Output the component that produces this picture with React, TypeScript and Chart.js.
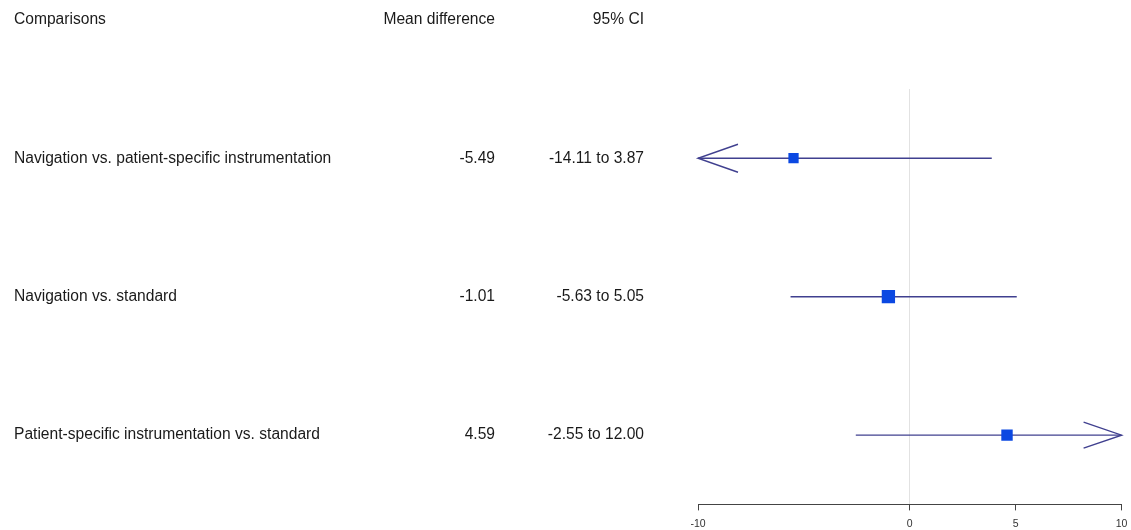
import React, { useEffect, useRef } from "react";
import { Chart, registerables } from "chart.js";

Chart.register(...registerables);

const comparisons = [
  "Navigation vs. patient-specific instrumentation",
  "Navigation vs. standard",
  "Patient-specific instrumentation vs. standard",
];
const meanDiff = [-5.49, -1.01, 4.59];
const ciLower = [-14.11, -5.63, -2.55];
const ciUpper = [3.87, 5.05, 12.0];
const xTicks = [-10, 0, 5, 10];
const headers = ["Comparisons", "Mean difference", "95% CI"];

const X_MIN = -10;
const X_MAX = 10;
const FONT = '"Liberation Sans", Arial, Helvetica, sans-serif';
const LINE_COLOR = "#40408f";
const BOX_COLOR = "#0b48e2";
const TEXT_COLOR = "#1a1a1a";

export default function App() {
  const ref = useRef<HTMLCanvasElement | null>(null);

  useEffect(() => {
    if (!ref.current) return;
    const clamp = (v: number) => Math.max(X_MIN, Math.min(X_MAX, v));
    // marker side proportional to sqrt of precision (inverse CI width)
    const radii = ciLower.map((lo, i) => {
      const w = ciUpper[i] - lo;
      const side = 43.5 / Math.sqrt(w);
      return side / Math.SQRT2;
    });

    const ciDatasets = comparisons.map((_, i) => ({
      type: "line" as const,
      data: [
        { x: clamp(ciLower[i]), y: i + 1 },
        { x: clamp(ciUpper[i]), y: i + 1 },
      ],
      borderColor: LINE_COLOR,
      borderWidth: 1.4,
      pointRadius: 0,
      showLine: true,
      fill: false,
    }));

    const textPlugin = {
      id: "forestText",
      afterDatasetsDraw(chart: any) {
        const { ctx, scales } = chart;
        const xs = scales.x;
        const ys = scales.y;
        ctx.save();
        // arrows for truncated CIs
        ctx.strokeStyle = LINE_COLOR;
        ctx.lineWidth = 1.4;
        comparisons.forEach((_, i) => {
          const y = ys.getPixelForValue(i + 1);
          if (ciLower[i] < X_MIN) {
            const tip = xs.getPixelForValue(X_MIN);
            ctx.beginPath();
            ctx.moveTo(tip + 40, y - 14);
            ctx.lineTo(tip, y);
            ctx.lineTo(tip + 40, y + 14);
            ctx.stroke();
          }
          if (ciUpper[i] > X_MAX) {
            const tip = xs.getPixelForValue(X_MAX);
            ctx.beginPath();
            ctx.moveTo(tip - 38, y - 13);
            ctx.lineTo(tip, y);
            ctx.lineTo(tip - 38, y + 13);
            ctx.stroke();
          }
        });
        // text columns
        ctx.fillStyle = TEXT_COLOR;
        ctx.font = `15.6px ${FONT}`;
        ctx.textBaseline = "middle";
        const headerY = 20;
        ctx.textAlign = "left";
        ctx.fillText(headers[0], 14, headerY);
        ctx.textAlign = "right";
        ctx.fillText(headers[1], 495, headerY);
        ctx.fillText(headers[2], 644, headerY);
        comparisons.forEach((label, i) => {
          const y = ys.getPixelForValue(i + 1);
          ctx.textAlign = "left";
          ctx.fillText(label, 14, y);
          ctx.textAlign = "right";
          ctx.fillText(meanDiff[i].toFixed(2), 495, y);
          ctx.fillText(`${ciLower[i].toFixed(2)} to ${ciUpper[i].toFixed(2)}`, 644, y);
        });
        ctx.restore();
      },
    };

    const chart = new Chart(ref.current, {
      type: "scatter",
      data: {
        datasets: [
          {
            type: "scatter" as const,
            data: meanDiff.map((m, i) => ({ x: m, y: i + 1 })),
            pointStyle: "rect",
            pointRadius: radii,
            pointHoverRadius: radii,
            backgroundColor: BOX_COLOR,
            borderColor: BOX_COLOR,
            borderWidth: 0,
          },
          ...ciDatasets,
        ] as any,
      },
      options: {
        animation: false,
        responsive: false,
        maintainAspectRatio: false,
        layout: { padding: { left: 698, right: 9, top: 89, bottom: -7 } },
        plugins: {
          legend: { display: false },
          tooltip: { enabled: false },
          title: { display: false },
        },
        scales: {
          x: {
            type: "linear",
            min: X_MIN,
            max: X_MAX,
            position: "bottom",
            afterBuildTicks: (axis: any) => {
              axis.ticks = xTicks.map((v) => ({ value: v }));
            },
            afterFit: (axis: any) => {
              axis.paddingLeft = 0;
              axis.paddingRight = 0;
            },
            grid: {
              drawOnChartArea: true,
              drawTicks: true,
              tickLength: 6,
              tickColor: "#444",
              color: (c: any) =>
                c.tick && c.tick.value === 0 ? "#e2e2e2" : "rgba(0,0,0,0)",
              lineWidth: 1,
            },
            border: { display: true, color: "#444", width: 1 },
            ticks: {
              font: { size: 10.5, family: FONT },
              color: "#333",
              padding: 7,
              maxRotation: 0,
              autoSkip: false,
            },
          },
          y: {
            type: "linear",
            min: 0.5,
            max: 3.5,
            reverse: true,
            display: false,
          },
        },
      },
      plugins: [textPlugin],
    } as any);

    return () => chart.destroy();
  }, []);

  return (
    <div style={{ position: "absolute", left: 0, top: 0, width: 1131, height: 530, background: "#fff" }}>
      <canvas ref={ref} width={1131} height={530} style={{ display: "block" }} />
    </div>
  );
}
